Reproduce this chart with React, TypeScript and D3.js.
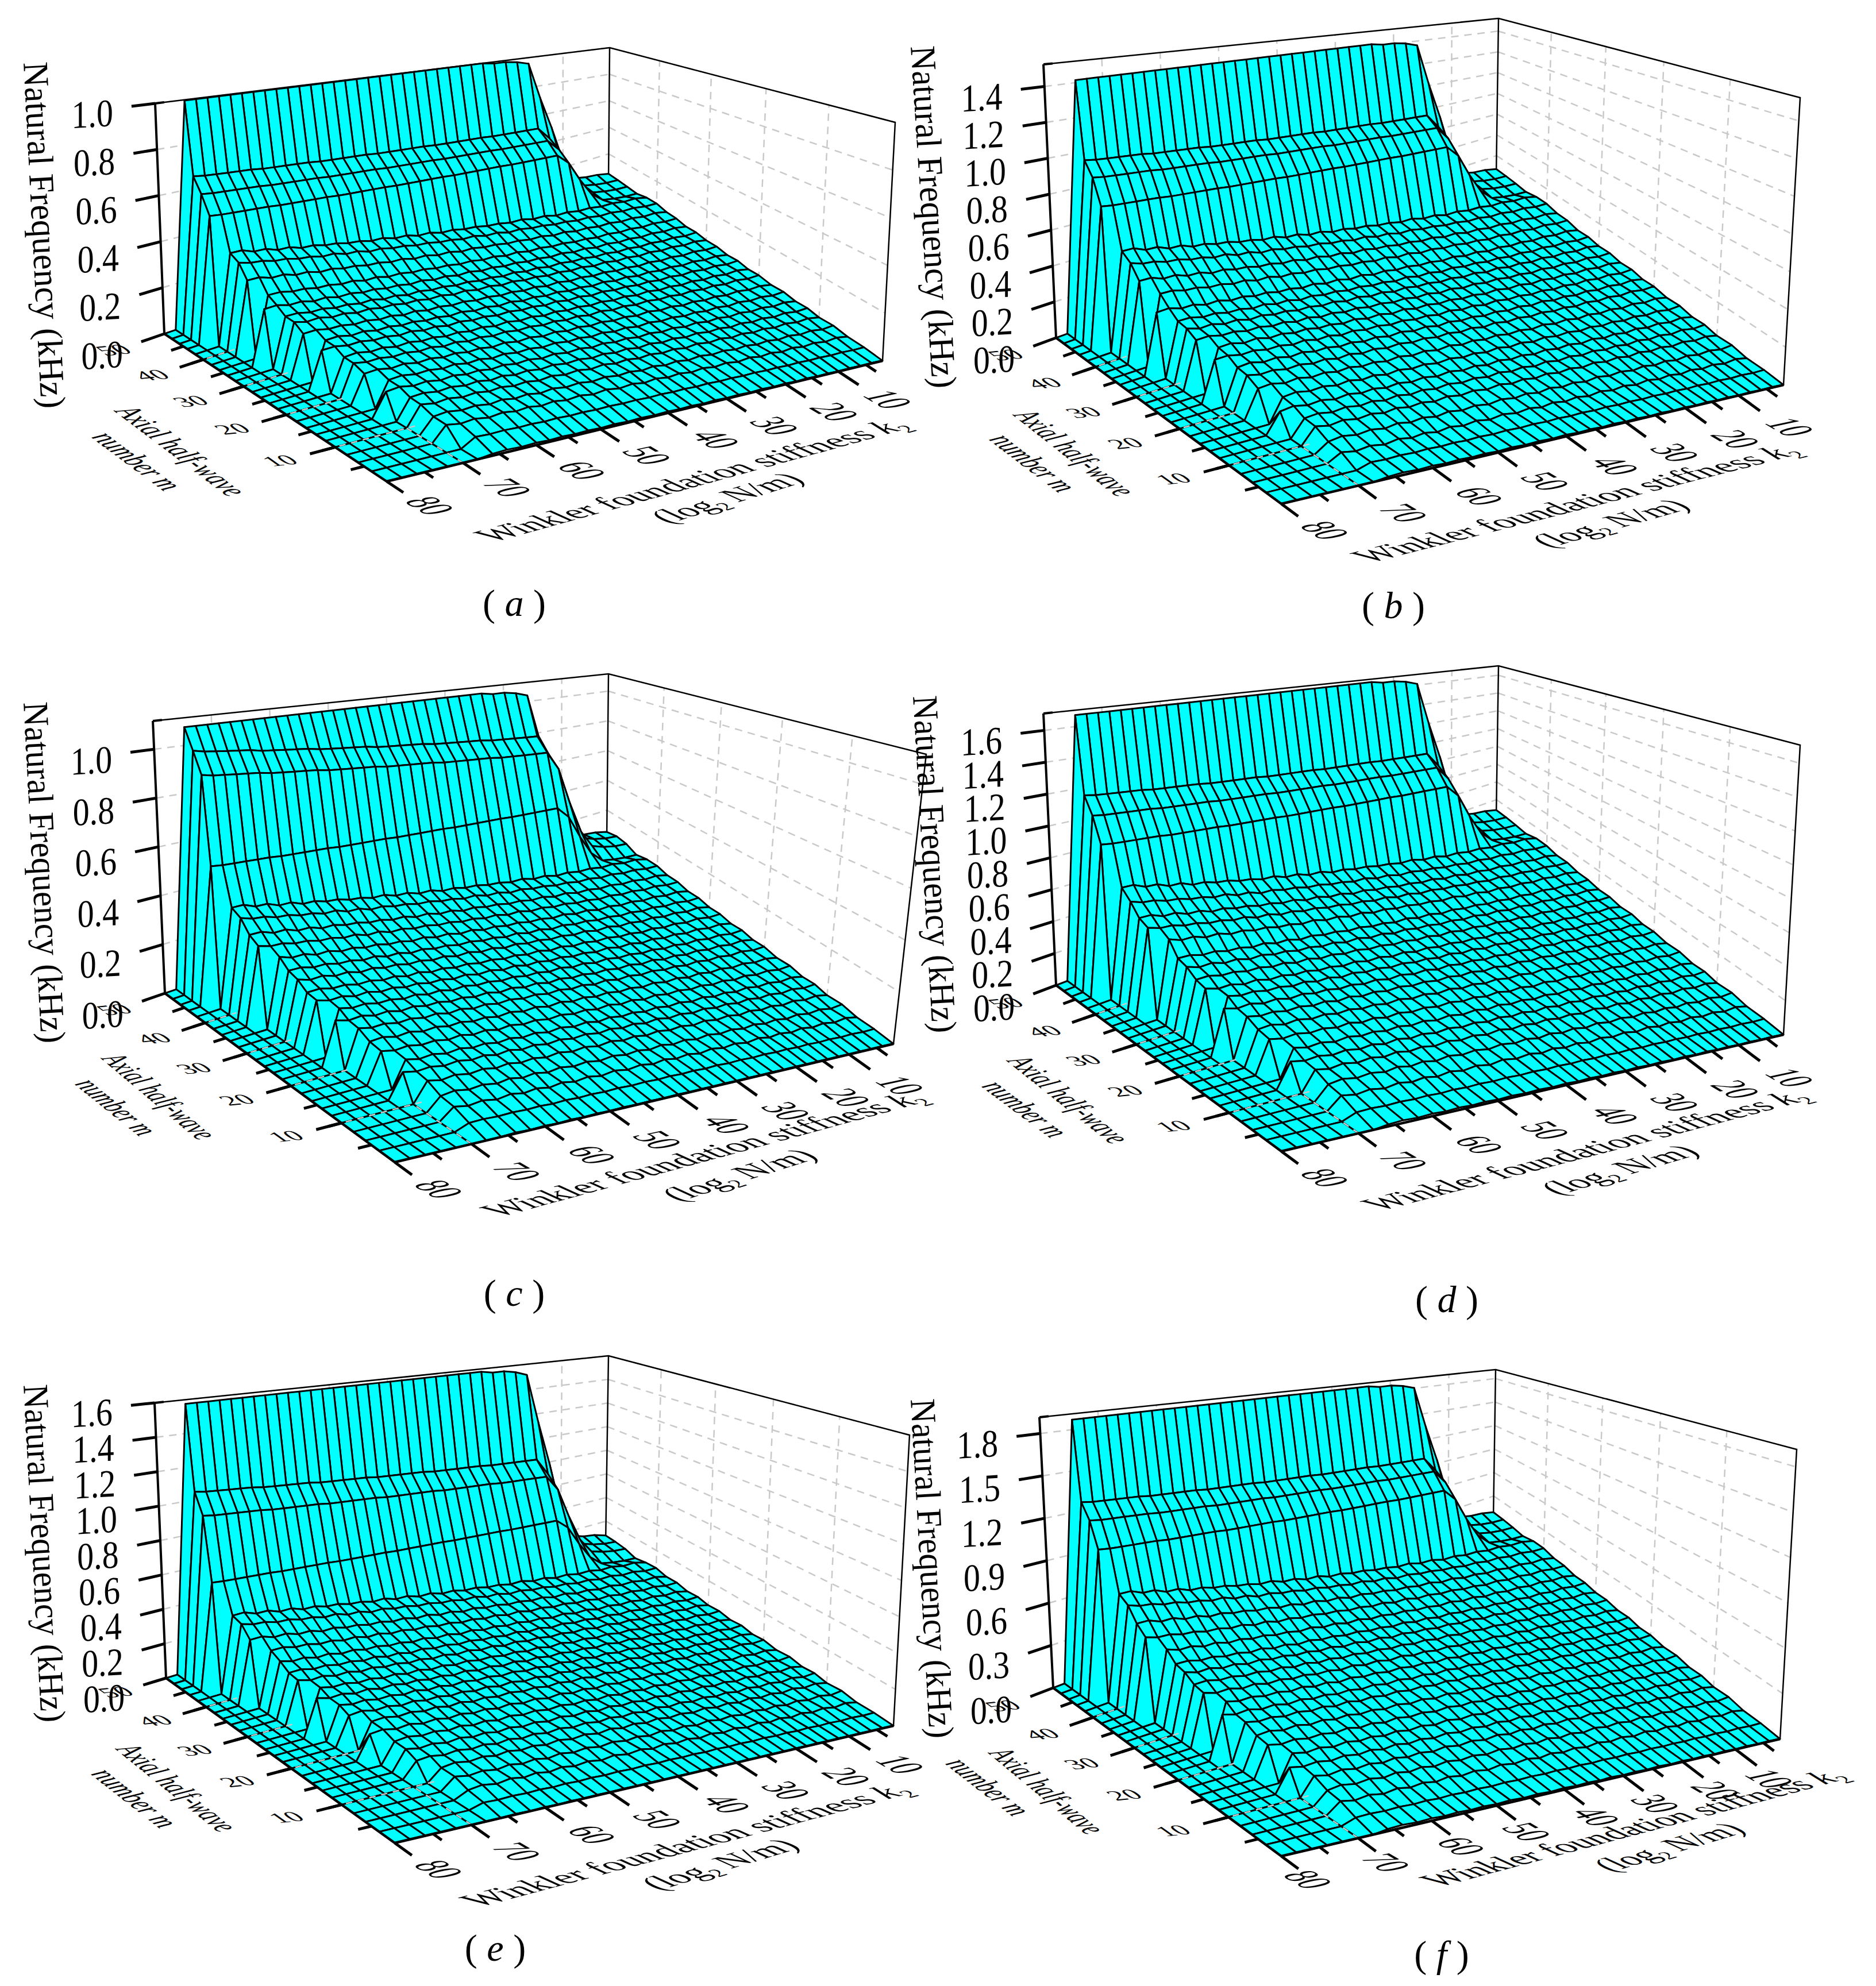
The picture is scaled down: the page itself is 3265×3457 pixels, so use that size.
import React, { useRef, useEffect } from 'react'
import * as d3 from 'd3'

type Pt = [number, number]

// rows run from m = 50 (back) to m = 2 (front), columns from k = 80 (left) to k = 2 (right)
const mValues = d3.range(50, 0, -2)
const kValues = d3.range(80, 0, -2)

// plateau frequency of each row, kHz
const plateauA = [1.0, 0.675, 0.61, 0.53, 0.38, 0.35, 0.3, 0.25, 0.22, 0.2, 0.19, 0.17, 0.155, 0.145, 0.13, 0.12, 0.11, 0.1, 0.09, 0.08, 0.07, 0.06, 0.05, 0.03, 0.008]
const plateauB = [1.42, 0.98, 0.9, 0.76, 0.53, 0.48, 0.42, 0.37, 0.31, 0.28, 0.26, 0.24, 0.22, 0.2, 0.18, 0.16, 0.14, 0.12, 0.1, 0.085, 0.07, 0.05, 0.03, 0.02, 0.01]
const plateauC = [1.08, 0.99, 0.9, 0.545, 0.39, 0.36, 0.32, 0.29, 0.26, 0.235, 0.215, 0.195, 0.18, 0.165, 0.15, 0.135, 0.12, 0.105, 0.09, 0.08, 0.065, 0.05, 0.035, 0.02, 0.002]
const plateauD = [1.68, 1.18, 1.07, 0.91, 0.66, 0.59, 0.53, 0.49, 0.44, 0.37, 0.34, 0.31, 0.28, 0.26, 0.235, 0.21, 0.19, 0.165, 0.14, 0.12, 0.1, 0.08, 0.055, 0.03, 0.012]
const plateauE = [1.58, 1.08, 0.96, 0.6, 0.43, 0.4, 0.35, 0.31, 0.27, 0.245, 0.225, 0.205, 0.19, 0.175, 0.16, 0.145, 0.13, 0.115, 0.1, 0.085, 0.07, 0.055, 0.04, 0.02, 0.002]
const plateauF = [1.88, 1.3, 1.19, 1.01, 0.72, 0.66, 0.58, 0.51, 0.45, 0.4, 0.37, 0.34, 0.31, 0.28, 0.25, 0.225, 0.2, 0.175, 0.15, 0.125, 0.1, 0.08, 0.055, 0.03, 0.014]

// first column of each row that lifts off the floor
const cliffA = [2, 2, 2, 2, 3, 3, 3, 4, 3, 4, 4, 4, 5, 4, 5, 5, 5, 6, 5, 6, 6, 6, 6, 7, 7]
const cliffB = [2, 2, 2, 2, 3, 3, 3, 3, 4, 4, 4, 4, 4, 5, 4, 5, 5, 5, 6, 5, 6, 6, 6, 6, 7]
const cliffE = [2, 2, 2, 2, 3, 3, 3, 4, 4, 4, 4, 5, 4, 5, 5, 6, 5, 6, 6, 6, 7, 7, 7, 7, 8]

// how much of the plateau is left at each k: top row, the three rows below it, all other rows
const profileTop = [
  1, 1, 1, 1, 1, 1, 1, 1, 1, 1, 1, 1, 1, 1, 1, 1, 1, 1, 1, 1,
  1, 1, 1, 1, 1, 1, 1, 1, 1, 0.99, 0.99, 0.98, 0.96, 0.72, 0.5, 0.25, 0.1, 0.08, 0.07, 0.05,
]
const profileRidge = [
  1, 1, 1, 0.99, 0.985, 0.98, 0.975, 0.97, 0.96, 0.955, 0.95, 0.945, 0.94, 0.93, 0.925, 0.92, 0.915, 0.91, 0.9, 0.895,
  0.89, 0.885, 0.88, 0.87, 0.865, 0.86, 0.855, 0.85, 0.84, 0.835, 0.83, 0.825, 0.82, 0.7, 0.46, 0.25, 0.13, 0.1, 0.08, 0.07,
]
const profileRest = [
  1, 1, 1, 1, 0.98, 0.95, 0.93, 0.9, 0.88, 0.85, 0.83, 0.81, 0.78, 0.76, 0.73, 0.71, 0.69, 0.66, 0.64, 0.61,
  0.59, 0.56, 0.54, 0.52, 0.49, 0.47, 0.44, 0.42, 0.4, 0.37, 0.35, 0.32, 0.3, 0.28, 0.26, 0.24, 0.22, 0.2, 0.18, 0.15,
]
// small wobble of the mesh, as a share of the height axis
const ripple = [0.0035, -0.003, 0.003, -0.0035]

const ticksA = [0, 0.2, 0.4, 0.6, 0.8, 1.0]
const ticksB = [0, 0.2, 0.4, 0.6, 0.8, 1.0, 1.2, 1.4]
const ticksC = [0, 0.2, 0.4, 0.6, 0.8, 1.0]
const ticksD = [0, 0.2, 0.4, 0.6, 0.8, 1.0, 1.2, 1.4, 1.6]
const ticksE = [0, 0.2, 0.4, 0.6, 0.8, 1.0, 1.2, 1.4, 1.6]
const ticksF = [0, 0.3, 0.6, 0.9, 1.2, 1.5, 1.8]

const mTicks = [45, 40, 35, 30, 25, 20, 15, 10, 5]
const mLabels = [50, 40, 30, 20, 10]
const kTicks = [80, 75, 70, 65, 60, 55, 50, 45, 40, 35, 30, 25, 20, 15, 10, 5]
const kLabels = [80, 70, 60, 50, 40, 30, 20, 10]

// where the ticks sit along the two floor axes, as a share of the axis length
const kStops = [80, 70, 60, 50, 40, 30, 20, 10, 2]
const kSharesFront = [0, 0.154, 0.302, 0.432, 0.568, 0.686, 0.805, 0.911, 1]
const mStops = [2, 5, 10, 15, 20, 25, 30, 35, 40, 45, 50]
const mShares = [0, 0.102, 0.232, 0.339, 0.452, 0.548, 0.644, 0.735, 0.825, 0.915, 1]

const SERIF = '"Liberation Serif", "Times New Roman", serif'
const CYAN = '#00ffff'
const GRID = '#c9c9c9'

// panel frames: box corners in page pixels and text baselines
const panels = [
  {
    letter: 'a', plateau: plateauA, cliff: cliffA, ticks: ticksA, zMax: 1.0, kShift: [0, 0],
    front: [673, 838], right: [1536, 628], back: [1059, 314], left: [286, 581],
    topRight: [1558, 213], topBack: [1061, 83], topLeft: [270, 180],
    xl1: [[858, 944], [1587, 744]], xl2: [[1163, 912], [1403, 838]],
    ax1: [[199, 716], [398, 866]], ax2: [[158, 761], [286, 856]], zt: [[41, 109], [72, 712]],
    cap: [895, 1072],
  },
  {
    letter: 'b', plateau: plateauB, cliff: cliffA, ticks: ticksB, zMax: 1.523, kShift: [0, 0],
    front: [2230, 877], right: [3104, 670], back: [2604, 307], left: [1838, 588],
    topRight: [3133, 170], topBack: [2608, 32], topLeft: [1816, 112],
    xl1: [[2384, 980], [3138, 789]], xl2: [[2696, 954], [2945, 884]],
    ax1: [[1763, 723], [1945, 866]], ax2: [[1720, 765], [1843, 859]], zt: [[1585, 81], [1623, 677]],
    cap: [2425, 1076],
  },
  {
    letter: 'c', plateau: plateauC, cliff: cliffB, ticks: ticksC, zMax: 1.116, kShift: [0, 0],
    front: [687, 2023], right: [1555, 1817], back: [1056, 1462], left: [287, 1729],
    topRight: [1612, 1313], topBack: [1059, 1173], topLeft: [266, 1255],
    xl1: [[869, 2119], [1617, 1916]], xl2: [[1182, 2092], [1426, 2015]],
    ax1: [[176, 1843], [346, 1986]], ax2: [[129, 1887], [243, 1979]], zt: [[41, 1223], [72, 1817]],
    cap: [895, 2273],
  },
  {
    letter: 'd', plateau: plateauD, cliff: cliffB, ticks: ticksD, zMax: 1.706, kShift: [0, 0],
    front: [2230, 2004], right: [3104, 1801], back: [2604, 1423], left: [1838, 1715],
    topRight: [3133, 1297], topBack: [2608, 1159], topLeft: [1816, 1242],
    xl1: [[2402, 2108], [3154, 1913]], xl2: [[2712, 2081], [2961, 2008]],
    ax1: [[1752, 1847], [1935, 1993]], ax2: [[1707, 1891], [1829, 1982]], zt: [[1589, 1212], [1623, 1799]],
    cap: [2518, 2284],
  },
  {
    letter: 'e', plateau: plateauE, cliff: cliffE, ticks: ticksE, zMax: 1.6, kShift: [0, 0],
    front: [687, 3208], right: [1555, 3004], back: [1054, 2689], left: [289, 2921],
    topRight: [1583, 2498], topBack: [1059, 2360], topLeft: [269, 2442],
    xl1: [[833, 3320], [1591, 3120]], xl2: [[1146, 3291], [1395, 3216]],
    ax1: [[201, 3045], [382, 3191]], ax2: [[157, 3088], [279, 3184]], zt: [[41, 2411], [72, 2999]],
    cap: [862, 3413],
  },
  {
    letter: 'f', plateau: plateauF, cliff: cliffB, ticks: ticksF, zMax: 1.915, kShift: [-30, -6],
    front: [2230, 3231], right: [3098, 3027], back: [2599, 2645], left: [1833, 2938],
    topRight: [3127, 2523], topBack: [2603, 2384], topLeft: [1809, 2467],
    xl1: [[2504, 3285], [3219, 3095]], xl2: [[2804, 3259], [3041, 3188]],
    ax1: [[1720, 3052], [1892, 3195]], ax2: [[1644, 3070], [1763, 3163]], zt: [[1585, 2436], [1618, 3027]],
    cap: [2509, 3424],
  },
]

const drawPanel = (svg: any, p: any) => {
  // k runs evenly along the back edge but bunches up to the right along the front edge
  const kFront = d3.scaleLinear().domain(kStops).range(kSharesFront)
  const kBack = d3.scaleLinear().domain([80, 2]).range([0, 1])
  const mScale = d3.scaleLinear().domain(mStops).range(mShares)
  const zScale = d3.scaleLinear().domain([0, p.zMax]).range([0, 1])
  const uOf = (k: number, v: number) => v * kBack(k) + (1 - v) * kFront(k)

  const floor = (u: number, v: number): Pt => {
    const f = (c: number) =>
      (1 - u) * (1 - v) * p.front[c] + u * (1 - v) * p.right[c] + u * v * p.back[c] + (1 - u) * v * p.left[c]
    return [f(0), f(1)]
  }
  // uprights at the three visible corners, the height vector changes evenly across the floor
  const vBack = [p.topBack[0] - p.back[0], p.topBack[1] - p.back[1]]
  const vLeft = [p.topLeft[0] - p.left[0], p.topLeft[1] - p.left[1]]
  const vRight = [p.topRight[0] - p.right[0], p.topRight[1] - p.right[1]]
  const project = (u: number, v: number, z: number, lean = 1): Pt => {
    const a = floor(u, v), t = zScale(z)
    return [
      a[0] + lean * t * (vBack[0] + (1 - u) * (vLeft[0] - vBack[0]) + (1 - v) * (vRight[0] - vBack[0])),
      a[1] + t * (vBack[1] + (1 - u) * (vLeft[1] - vBack[1]) + (1 - v) * (vRight[1] - vBack[1])),
    ]
  }

  const g = svg.append('g')
  const line = d3.line()
  const stroke = (pts: Pt[], color: string, width: number, dash?: string) =>
    g.append('path').attr('d', line(pts)).attr('fill', 'none').attr('stroke', color)
      .attr('stroke-width', width).attr('stroke-dasharray', dash ?? null).attr('stroke-linecap', 'butt')

  // walls
  p.ticks.slice(1).forEach((z: number) => {
    stroke([project(0, 1, z), project(1, 1, z)], GRID, 2.5, '13 10')
    stroke([project(1, 1, z), project(1, 0, z)], GRID, 2.5, '13 10')
  })
  kLabels.slice(1).forEach(k => {
    stroke([project(kBack(k), 1, 0), project(kBack(k), 1, p.zMax)], GRID, 2.5, '13 10')
  })
  mLabels.slice(1).forEach(m => {
    stroke([project(1, mScale(m), 0), project(1, mScale(m), p.zMax)], GRID, 2.5, '13 10')
  })
  stroke([project(0, 1, p.zMax), project(1, 1, p.zMax), project(1, 0, p.zMax), project(1, 0, 0)], '#000', 2.5)
  stroke([project(1, 1, 0), project(1, 1, p.zMax)], '#000', 2.5)

  // surface, back to front
  const height = (i: number, j: number) => {
    if (j < p.cliff[i]) return 0
    if (i === 0) return p.plateau[0] * profileTop[j]
    if (i < 4) return p.plateau[i] * profileRidge[j]
    const h = p.plateau[i] * profileRest[j]
    return Math.max(0, h + ripple[(i + j) % 4] * p.zMax * (i > 22 ? 0.3 : 1))
  }
  const node = (i: number, j: number) => {
    const v = mScale(mValues[i])
    return project(uOf(kValues[j], v), v, height(i, j), 0.3)
  }
  const quads = g.append('g').attr('fill', CYAN).attr('stroke', '#000').attr('stroke-width', 3).attr('stroke-linejoin', 'round')
  mValues.slice(1).forEach((_: number, i: number) => {
    for (let j = kValues.length - 2; j >= 0; j--) {
      quads.append('path').attr('d', line([node(i, j), node(i, j + 1), node(i + 1, j + 1), node(i + 1, j)]) + 'Z')
    }
  })

  // floor grid showing through on the strip in front of the cliff
  mLabels.slice(1).forEach(m => {
    const i = mValues.indexOf(m)
    const v = mScale(m)
    const kEnd = 80 - 2 * (p.cliff[i] - 0.4)
    stroke([project(uOf(79.4, v), v, 0), project(uOf(kEnd, v), v, 0)], GRID, 2.5, '11 10')
  })
  stroke([project(uOf(70, 0), 0, 0), project(uOf(70, mScale(10)), mScale(10), 0)], GRID, 2.5, '11 10')

  // axes
  stroke([project(0, 1, 0), project(0, 1, p.zMax)], '#000', 4)
  stroke([project(0, 1, p.zMax), project(0.02, 1, p.zMax)], '#000', 4)
  stroke([project(0, 1, 0), project(0, 0, 0)], '#000', 4.5)
  stroke([project(0, 0, 0), project(1, 0, 0)], '#000', 4.5)

  const tickText = (str: string, pos: Pt, m: number[], size: number, anchor = 'middle') =>
    g.append('text').text(str).attr('font-family', SERIF).attr('font-size', size).attr('text-anchor', anchor)
      .attr('transform', `matrix(${m.join(' ')} ${pos[0]} ${pos[1]})`)

  p.ticks.forEach((z: number) => {
    const end = project(-0.052, 1, z)
    stroke([project(0, 1, z), end], '#000', 5)
    const t = zScale(z)
    tickText(z.toFixed(1), [end[0] - 32, end[1] + 34 + 10 * (1 - t)], [0.85, -0.05, 0, 1], 68, 'end')
  })
  mTicks.forEach(m => stroke([project(0, mScale(m), 0), project(-0.027, mScale(m), 0)], '#000', 5))
  mLabels.slice(1).forEach(m => stroke([project(0, mScale(m), 0), project(-0.052, mScale(m), 0)], '#000', 5))
  mLabels.forEach(m => {
    const c = project(-0.112, mScale(m), 0)
    tickText(String(m), [c[0] + 9, c[1] + 6], [0.95, -0.1, 0.62, 0.44], 52)
  })
  kTicks.forEach(k => {
    const major = k % 10 === 0
    stroke([project(kFront(k), 0, 0), project(kFront(k), major ? -0.075 : -0.037, 0)], '#000', 5)
  })
  kLabels.forEach(k => {
    const c = project(kFront(k), -0.13, 0)
    tickText(String(k), [c[0] + p.kShift[0], c[1] + 14 + p.kShift[1]], [0.87, 0.51, -1.5, 0.32], 50)
  })

  // text laid along a baseline, stretched to the measured length
  const along = (ends: Pt[], size: number, up: Pt, italic: boolean, fill: (t: any) => void) => {
    const t = g.append('text').attr('font-family', SERIF).attr('font-size', size)
      .attr('font-style', italic ? 'italic' : 'normal')
    fill(t)
    const natural = (t.node() as SVGTextElement).getComputedTextLength()
    const dx = ends[1][0] - ends[0][0], dy = ends[1][1] - ends[0][1]
    const len = Math.hypot(dx, dy)
    const s = len / natural
    t.attr('transform', `matrix(${(dx / len) * s} ${(dy / len) * s} ${-up[0]} ${-up[1]} ${ends[0][0]} ${ends[0][1]})`)
  }
  const sub = (t: any, s: string) => t.append('tspan').attr('font-size', 30).attr('dy', 10).attr('font-style', 'normal').text(s)

  along(p.zt, 62, [1, -0.055], false, (t: any) => t.text('Natural Frequency (kHz)'))
  along(p.xl1, 50, [-1.1, -0.5], false, (t: any) => {
    t.append('tspan').text('Winkler foundation stiffness ')
    t.append('tspan').attr('font-style', 'italic').text('k')
    sub(t, '2')
  })
  along(p.xl2, 50, [-1.1, -0.5], false, (t: any) => {
    t.append('tspan').text('(log')
    sub(t, '2')
    t.append('tspan').attr('dy', -10).text(' N/m)')
  })
  along(p.ax1, 48, [1.05, -0.38], true, (t: any) => t.text('Axial half-wave'))
  along(p.ax2, 48, [1.05, -0.38], true, (t: any) => {
    t.append('tspan').text('number ')
    t.append('tspan').text('m')
  })

  const cap = g.append('text').attr('font-family', SERIF).attr('font-size', 66).attr('text-anchor', 'middle')
    .attr('x', p.cap[0]).attr('y', p.cap[1])
  cap.append('tspan').text('( ')
  cap.append('tspan').attr('font-style', 'italic').text(p.letter)
  cap.append('tspan').text(' )')
}

const App = () => {
  const svgRef = useRef<SVGSVGElement>(null)

  useEffect(() => {
    const svg = d3.select(svgRef.current)
    svg.selectAll('*').remove()
    panels.forEach(p => drawPanel(svg, p))
  }, [])

  return (
    <svg
      ref={svgRef}
      width={3265}
      height={3457}
      style={{ position: 'absolute', left: 0, top: 0, background: '#fff' }}
    />
  )
}

export default App
